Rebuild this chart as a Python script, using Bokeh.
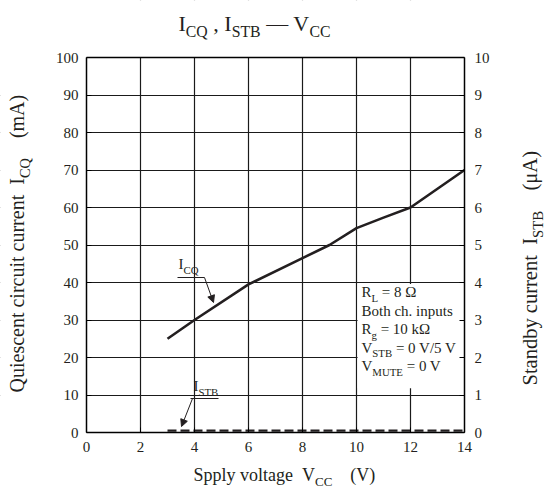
import math
from bokeh.plotting import figure
from bokeh.models import (Range1d, LinearAxis, FixedTicker, Grid, Label,
                          BoxAnnotation, Arrow, NormalHead)
from bokeh.embed import file_html
from bokeh.resources import INLINE

# ---- data -------------------------------------------------------------
vcc_icq = [3, 4, 6, 8, 9, 10, 11, 12, 14]            # supply voltage (V)
icq_ma = [25, 30, 39.5, 46.5, 50, 54.5, 57.3, 60, 70]  # quiescent current (mA)
vcc_stb = [3, 14]                                     # supply voltage (V)
istb_ua = [0.05, 0.05]                                # standby current (uA)

x_ticks = [0, 2, 4, 6, 8, 10, 12, 14]
icq_ticks = [0, 10, 20, 30, 40, 50, 60, 70, 80, 90, 100]
stb_ticks = [0, 1, 2, 3, 4, 5, 6, 7, 8, 9, 10]

# ---- layout constants (canvas pixels) -----------------------------------
W, H = 554, 496
FL, FR, FT, FB = 86, 464, 57, 432          # edges of the plotting area
X0, X1, Y0, Y1 = 0, 14, 0, 100
FONT = "Liberation Serif"
INK = "#231f20"


def px2x(px):
    return X0 + (px - FL) * (X1 - X0) / (FR - FL)


def py2y(py):
    return Y0 + (FB - py) * (Y1 - Y0) / (FB - FT)


# Times advance widths (1/1000 em); Liberation Serif is metric compatible
TW = {' ': 250, '(': 333, ')': 333, ',': 250, '-': 333, '.': 250, '/': 278,
      '=': 564, '\u03a9': 768, '\u03bc': 576, '\u2014': 1000}
TW.update({d: 500 for d in "0123456789"})
TW.update(dict(zip("ABCDEFGHIJKLMNOPQRSTUVWXYZ",
                   [722, 667, 667, 722, 611, 556, 722, 722, 333, 389, 722, 611, 889,
                    722, 722, 556, 722, 667, 556, 611, 722, 722, 944, 722, 722, 611])))
TW.update(dict(zip("abcdefghijklmnopqrstuvwxyz",
                   [444, 500, 444, 500, 444, 333, 500, 500, 278, 278, 500, 278, 778,
                    500, 500, 500, 500, 333, 389, 278, 500, 500, 722, 500, 500, 444])))


def tw(s, size):
    return sum(TW.get(c, 500) for c in s) / 1000.0 * size


# The frame fills the whole canvas so that titles with subscripts can be
# placed anywhere; the axes sit at fixed data locations around the plot area.
p = figure(width=W, height=H,
           x_range=Range1d(px2x(0), px2x(W)), y_range=Range1d(py2y(H), py2y(0)),
           x_axis_location=None, y_axis_location=None,
           output_backend="svg", toolbar_location=None,
           min_border=0, min_border_left=0, min_border_right=0,
           min_border_top=0, min_border_bottom=0)
p.background_fill_color = "white"
p.border_fill_color = "white"
p.outline_line_color = None
for g in p.grid:
    g.visible = False

p.extra_y_ranges = {"stb": Range1d(py2y(H) / 10.0, py2y(0) / 10.0)}

# grid
xg = Grid(dimension=0, ticker=FixedTicker(ticks=x_ticks[1:-1]),
          grid_line_color="#1a1a1a", grid_line_width=1.2)
yg = Grid(dimension=1, ticker=FixedTicker(ticks=icq_ticks[1:-1]),
          grid_line_color="#1a1a1a", grid_line_width=1.2)
p.add_layout(xg)
p.add_layout(yg)

# white masks outside the plotting area, and a blank panel for the conditions
mask = dict(fill_color="white", fill_alpha=1.0, line_color=None, level="underlay")
xa, xb = px2x(-20), px2x(W + 20)
ya, yb = py2y(H + 20), py2y(-20)
p.add_layout(BoxAnnotation(left=xa, right=X0, bottom=ya, top=yb, **mask))
p.add_layout(BoxAnnotation(left=X1, right=xb, bottom=ya, top=yb, **mask))
p.add_layout(BoxAnnotation(left=xa, right=xb, bottom=ya, top=Y0, **mask))
p.add_layout(BoxAnnotation(left=xa, right=xb, bottom=Y1, top=yb, **mask))
p.add_layout(BoxAnnotation(left=10.04, right=14, bottom=11.8, top=39.6, **mask))


def style_axis(ax, standoff, labels=True):
    ax.axis_line_color = "black"
    ax.axis_line_width = 1.5
    ax.major_tick_in = 5
    ax.major_tick_out = 0
    ax.major_tick_line_color = "black"
    ax.minor_tick_line_color = None
    ax.major_label_text_font = FONT
    ax.major_label_text_font_size = "15px"
    ax.major_label_text_color = INK if labels else None
    ax.major_label_standoff = standoff
    ax.axis_label = None


bax = LinearAxis(fixed_location=Y0, bounds=(X0, X1), ticker=FixedTicker(ticks=x_ticks))
style_axis(bax, 9)
p.add_layout(bax, "below")

lax = LinearAxis(fixed_location=X0, bounds=(Y0, Y1), ticker=FixedTicker(ticks=icq_ticks))
style_axis(lax, 8)
p.add_layout(lax, "left")

rax = LinearAxis(fixed_location=X1, y_range_name="stb", bounds=(0, 10),
                 ticker=FixedTicker(ticks=stb_ticks))
style_axis(rax, 10)
p.add_layout(rax, "right")

tax = LinearAxis(fixed_location=Y1, bounds=(X0, X1), ticker=FixedTicker(ticks=[]))
style_axis(tax, 5, labels=False)
p.add_layout(tax, "above")

# curves
p.line(vcc_icq, icq_ma, line_color=INK, line_width=2.6)
p.line(vcc_stb, [v * 10 for v in istb_ua], line_color=INK, line_width=2.4,
       line_dash="9 4")

BASE_SHIFT = 0.42   # anchor-to-baseline distance of a label, in em


def rich(pieces, px, py, size, vertical=False, sub_scale=0.72, drop=0.26, color=INK):
    """Lay out text runs on a baseline given in canvas pixels.

    pieces are (text, is_subscript) pairs; vertical text reads bottom to top.
    """
    cur = px if not vertical else py
    step = 1 if not vertical else -1
    for txt, sub in pieces:
        fs = size * sub_scale if sub else size
        off = (drop * size if sub else 0.0) - BASE_SHIFT * fs
        lead = len(txt) - len(txt.lstrip(" "))
        trail = len(txt) - len(txt.rstrip(" "))
        core = txt.strip(" ")
        cur += step * tw(" " * lead, fs)
        if core:
            if vertical:
                lx, ly, ang = px + off, cur, math.pi / 2
            else:
                lx, ly, ang = cur, py + off, 0.0
            p.add_layout(Label(x=lx, y=H - ly, x_units="screen", y_units="screen",
                               text=core, angle=ang,
                               text_font=FONT, text_font_size=f"{fs:.1f}px",
                               text_color=color, text_align="left",
                               text_baseline="alphabetic"))
            cur += step * tw(core, fs)
        cur += step * tw(" " * trail, fs)


# title
rich([("I", False), ("CQ", True), (" , I", False), ("STB", True),
      (" \u2014 V", False), ("CC", True)], 178, 32, 22)
# axis titles
rich([("Spply voltage  ", False), ("V", False), ("CC", True), ("  ", False),
      ("(V)", False)], 193, 482, 18)
rich([("Quiescent circuit current  ", False), ("I", False), ("CQ", True),
      ("  ", False), ("(mA)", False)], 25, 392, 20, vertical=True)
rich([("Standby current  ", False), ("I", False), ("STB", True), ("  ", False),
      ("(\u03bcA)", False)], 538, 385, 20.5, vertical=True)

# operating conditions
cond = [
    [("R", False), ("L", True), (" = 8 \u03a9", False)],
    [("Both ch. inputs", False)],
    [("R", False), ("g", True), (" = 10 k\u03a9", False)],
    [("V", False), ("STB", True), (" = 0 V/5 V", False)],
    [("V", False), ("MUTE", True), (" = 0 V", False)],
]
for i, line in enumerate(cond):
    rich(line, 361, 298 + 18.5 * i, 15)

# curve call-outs
rich([("I", False), ("CQ", True)], 178, 270, 15)
rich([("I", False), ("STB", True)], 193, 392, 15)

for (x_a, y_a, x_b, y_b) in [(177, 277, 204, 277), (190, 398, 218, 398)]:
    p.add_layout(Arrow(x_start=px2x(x_a), y_start=py2y(y_a), x_end=px2x(x_b),
                       y_end=py2y(y_b), end=None, line_color=INK, line_width=1))
for (x_a, y_a, x_b, y_b) in [(204, 277, 213, 302), (192, 398, 181, 426)]:
    p.add_layout(Arrow(x_start=px2x(x_a), y_start=py2y(y_a), x_end=px2x(x_b),
                       y_end=py2y(y_b), line_color=INK, line_width=1,
                       end=NormalHead(size=7, fill_color=INK, line_color=INK)))

open("out.html", "w").write(file_html(p, INLINE))
